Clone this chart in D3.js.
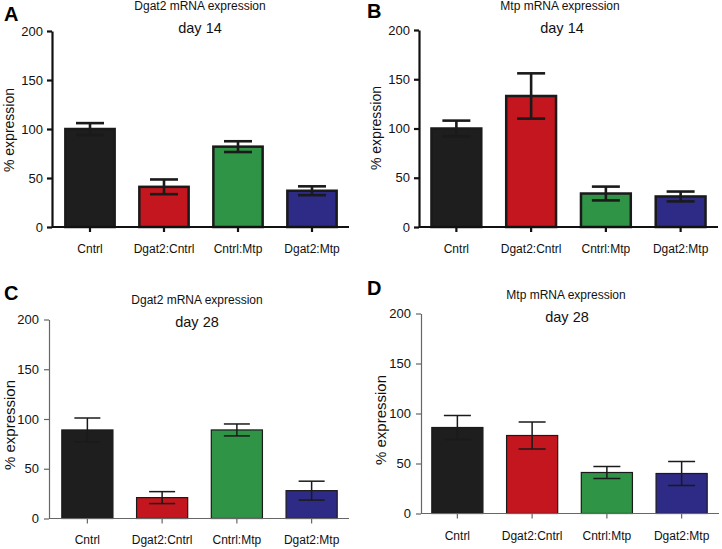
<!DOCTYPE html>
<html>
<head>
<meta charset="utf-8">
<script src="https://cdn.jsdelivr.net/npm/d3@7"></script>
<style>
  html, body { margin: 0; padding: 0; background: #fff; }
  svg { display: block; font-family: Arial, "Liberation Sans", sans-serif; }
</style>
</head>
<body>
<svg id="chart" width="722" height="549"></svg>
<script>
// ---------- data ----------
const categories = ["Cntrl", "Dgat2:Cntrl", "Cntrl:Mtp", "Dgat2:Mtp"];
const barColors = ["#1e1e1e", "#c3161f", "#2f9446", "#2e2b86"];
const yTicks = [0, 50, 100, 150, 200];

const dgat2Day14Mean = [100, 41, 82, 37];
const dgat2Day14Err  = [6, 7.5, 5.5, 4.5];
const mtpDay14Mean   = [100, 133, 34, 31];
const mtpDay14Err    = [8, 23, 7, 5];
const dgat2Day28Mean = [89, 21, 89, 28];
const dgat2Day28Err  = [12, 6, 6, 9.5];
const mtpDay28Mean   = [86, 78, 41, 40];
const mtpDay28Err    = [12, 13.5, 6, 12];

const panelLetters = ["A", "B", "C", "D"];
const panelTitles  = ["Dgat2 mRNA expression", "Mtp mRNA expression", "Dgat2 mRNA expression", "Mtp mRNA expression"];
const panelDays    = ["day 14", "day 14", "day 28", "day 28"];
const yLabel = "% expression";

// ---------- layout (positions / styles) ----------
const panels = [
  { mean: dgat2Day14Mean, err: dgat2Day14Err, axisX: 52, x0: 53, x1: 349, yBottom: 227, yTop: 31,
    letter: [4, 21], title: [200, 10], day: [200, 33], ylab: [9, 130], thick: true, cap: 28, catY: 248, ylabSize: 14 },
  { mean: mtpDay14Mean, err: mtpDay14Err, axisX: 419, x0: 419, x1: 718, yBottom: 227, yTop: 30,
    letter: [367, 18], title: [560, 10], day: [562, 33], ylab: [376, 128], thick: true, cap: 28, catY: 248, ylabSize: 14 },
  { mean: dgat2Day28Mean, err: dgat2Day28Err, axisX: 49, x0: 50, x1: 349, yBottom: 518.5, yTop: 319.5,
    letter: [4, 300], title: [197, 304], day: [197, 327], ylab: [9, 425], thick: false, cap: 26, catY: 539, ylabSize: 15 },
  { mean: mtpDay28Mean, err: mtpDay28Err, axisX: 421, x0: 420, x1: 719, yBottom: 513.5, yTop: 313.5,
    letter: [367, 295], title: [566, 299], day: [567, 322], ylab: [380, 420], thick: false, cap: 27, catY: 535, ylabSize: 15 }
];

const svg = d3.select("#chart");

panels.forEach((p, i) => {
  const g = svg.append("g");
  const x = d3.scaleBand().domain(categories).range([p.x0, p.x1]).paddingInner(0.3).paddingOuter(0.15);
  const y = d3.scaleLinear().domain([0, 200]).range([p.yBottom, p.yTop]);

  const axisColor = p.thick ? "#111" : "#666";
  const axisWidth = p.thick ? 2.2 : 1.2;
  const barStroke = p.thick ? 2.5 : 1.2;
  const errWidth  = p.thick ? 2.6 : 1.5;

  // bars
  g.selectAll("rect.bar").data(categories).enter().append("rect")
    .attr("class", "bar")
    .attr("x", d => x(d) + barStroke / 2)
    .attr("width", x.bandwidth() - barStroke)
    .attr("y", (d, j) => y(p.mean[j]))
    .attr("height", (d, j) => y(0) - y(p.mean[j]))
    .attr("fill", (d, j) => barColors[j])
    .attr("stroke", "#1a1a1a")
    .attr("stroke-width", barStroke);

  // error bars
  const eg = g.selectAll("g.err").data(categories).enter().append("g").attr("class", "err");
  eg.append("line")
    .attr("x1", d => x(d) + x.bandwidth() / 2).attr("x2", d => x(d) + x.bandwidth() / 2)
    .attr("y1", (d, j) => y(p.mean[j] - p.err[j])).attr("y2", (d, j) => y(p.mean[j] + p.err[j]));
  eg.append("line")
    .attr("x1", d => x(d) + x.bandwidth() / 2 - p.cap / 2).attr("x2", d => x(d) + x.bandwidth() / 2 + p.cap / 2)
    .attr("y1", (d, j) => y(p.mean[j] + p.err[j])).attr("y2", (d, j) => y(p.mean[j] + p.err[j]));
  eg.append("line")
    .attr("x1", d => x(d) + x.bandwidth() / 2 - p.cap / 2).attr("x2", d => x(d) + x.bandwidth() / 2 + p.cap / 2)
    .attr("y1", (d, j) => y(p.mean[j] - p.err[j])).attr("y2", (d, j) => y(p.mean[j] - p.err[j]));
  eg.selectAll("line").attr("stroke", "#1a1a1a").attr("stroke-width", errWidth);

  // y axis
  const ya = g.append("g").attr("transform", `translate(${p.axisX},0)`)
    .call(d3.axisLeft(y).tickValues(yTicks).tickSize(5).tickPadding(p.thick ? 4 : 5).tickSizeOuter(0));
  ya.select(".domain").attr("stroke", axisColor).attr("stroke-width", axisWidth);
  ya.selectAll(".tick line").attr("stroke", axisColor).attr("stroke-width", axisWidth);
  ya.selectAll(".tick text").attr("font-size", 13).attr("fill", "#111")
    .attr("font-family", "Arial, 'Liberation Sans', sans-serif");

  // x axis
  const xa = g.append("g").attr("transform", `translate(0,${p.yBottom})`)
    .call(d3.axisBottom(x).tickSize(5).tickPadding(p.catY - p.yBottom - 9).tickSizeOuter(0));
  xa.select(".domain").attr("stroke", axisColor).attr("stroke-width", axisWidth)
    .attr("d", `M${p.axisX},0H${p.x1}`);
  xa.selectAll(".tick line").attr("stroke", axisColor).attr("stroke-width", axisWidth);
  xa.selectAll(".tick text").attr("font-size", 12).attr("fill", "#111")
    .attr("font-family", "Arial, 'Liberation Sans', sans-serif");

  // panel letter
  g.append("text").attr("x", p.letter[0]).attr("y", p.letter[1])
    .attr("font-size", 20).attr("font-weight", "bold").attr("fill", "#000").text(panelLetters[i]);
  // title
  g.append("text").attr("x", p.title[0]).attr("y", p.title[1]).attr("text-anchor", "middle")
    .attr("font-size", 12).attr("fill", "#111").text(panelTitles[i]);
  // day
  g.append("text").attr("x", p.day[0]).attr("y", p.day[1]).attr("text-anchor", "middle")
    .attr("font-size", 14.5).attr("fill", "#111").text(panelDays[i]);
  // y label
  g.append("text").attr("transform", `translate(${p.ylab[0]},${p.ylab[1]}) rotate(-90)`)
    .attr("text-anchor", "middle").attr("dominant-baseline", "central")
    .attr("font-size", p.ylabSize).attr("fill", "#111").text(yLabel);
});
</script>
</body>
</html>
